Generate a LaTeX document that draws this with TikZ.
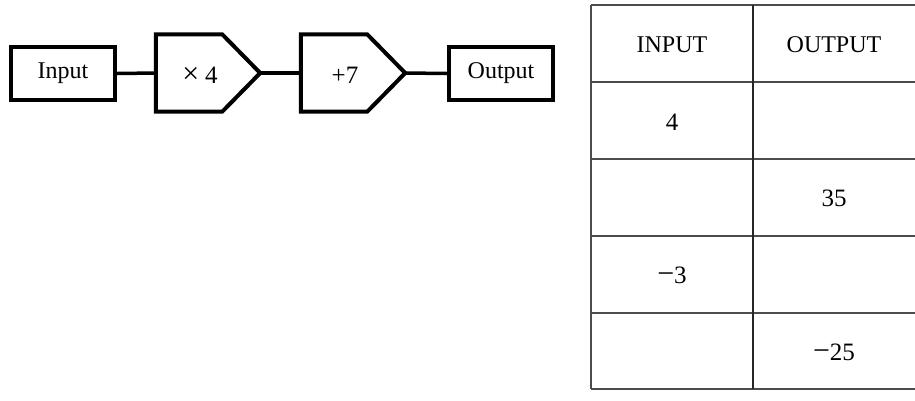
\documentclass[tikz,border=0pt]{standalone}
\usepackage{fontspec}
\setmainfont{Liberation Serif}
\newcommand{\lminus}{{\fontsize{30}{30}\selectfont −}}
\begin{document}
\begin{tikzpicture}[x=1pt,y=-1pt,
  txt/.style={font=\fontsize{24}{28}\selectfont, inner sep=0pt},
  num/.style={font=\fontsize{25}{29}\selectfont, inner sep=0pt},
  box/.style={draw, line width=4pt, minimum width=104pt, minimum height=53pt, inner sep=0pt, font=\fontsize{24}{28}\selectfont},
  opshape/.style={inner sep=0pt, minimum width=104pt, minimum height=77pt},
  conn/.style={line width=3.5pt},
  grid/.style={draw=black!70, line width=1.3pt}]
\useasboundingbox (0,0) rectangle (915,400);
% flow chart
\node[box] (in) at (63,73.5) {\raisebox{-2pt}{Input}};
\node[box] (out) at (501,73.5) {\raisebox{-2pt}{Output}};
\node[opshape] (m) at (208,73) {};
\node[opshape] (p) at (353,73) {};
\draw[line width=4pt, line join=miter]
  (m.north west) -- ([xshift=-38pt]m.north east) -- (m.east) -- ([xshift=-38pt]m.south east) -- (m.south west) -- cycle;
\draw[line width=4pt, line join=miter]
  (p.north west) -- ([xshift=-38pt]p.north east) -- (p.east) -- ([xshift=-38pt]p.south east) -- (p.south west) -- cycle;
\node[num] (mt) at (200,75) {{\fontsize{30}{30}\selectfont×}\hspace{6pt}4};
\node[num] (pt) at (345,75) {+7};
\draw[conn] (in.east) -- (m.west);
\draw[conn] (m.east) -- (p.west);
\draw[conn] (p.east) -- (out.west);
% table
\draw[grid] (591,5) -- (915,5);
\draw[grid] (591,82) -- (915,82);
\draw[grid] (591,159) -- (915,159);
\draw[grid] (591,236) -- (915,236);
\draw[grid] (591,313) -- (915,313);
\draw[grid] (591,389) -- (915,389);
\draw[grid] (591,5) -- (591,389);
\draw[draw=black!85, line width=1.3pt] (753,5) -- (753,389);
\node[txt] (h1) at (672,45) {INPUT};
\node[txt] (h2) at (834,45) {OUTPUT};
\node[num] (a1) at (672,122) {4};
\node[num] (b2) at (834,198) {35};
\node[num] (a3) at (672,275) {\lminus3};
\node[num] (b4) at (834,352) {\lminus25};
\end{tikzpicture}
\end{document}
